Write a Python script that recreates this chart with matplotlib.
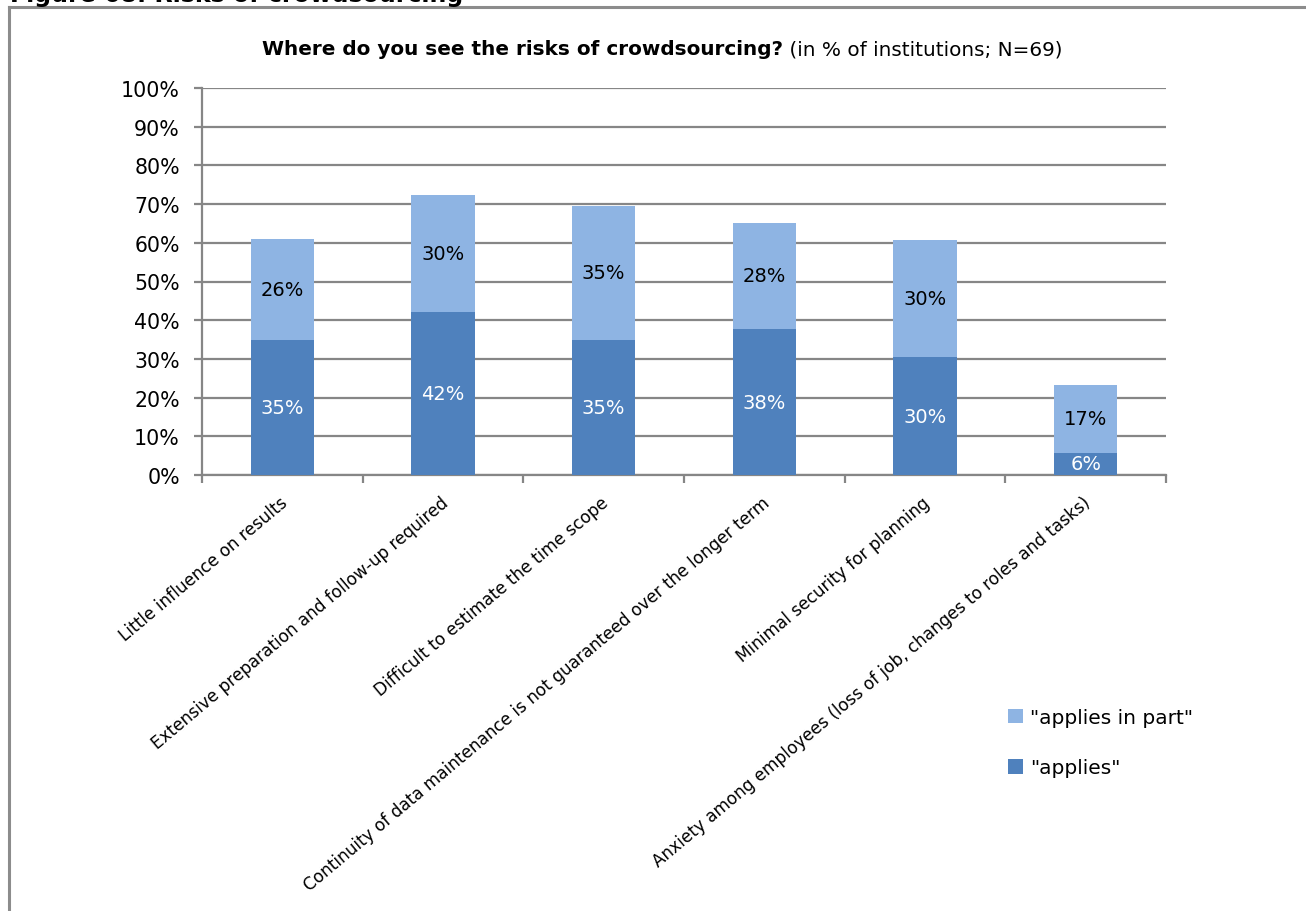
import matplotlib
matplotlib.use("Agg")
import matplotlib.pyplot as plt
from matplotlib.ticker import MultipleLocator, FuncFormatter

# Survey answers (share of institutions, N=69)
categories = [
    "Little influence on results",
    "Extensive preparation and follow-up required",
    "Difficult to estimate the time scope",
    "Continuity of data maintenance is not guaranteed over the longer term",
    "Minimal security for planning",
    "Anxiety among employees (loss of job, changes to roles and tasks)",
]
applies = [34.8, 42.0, 34.8, 37.7, 30.4, 5.8]
applies_in_part = [26.1, 30.4, 34.8, 27.5, 30.4, 17.4]

FONT = "DejaVu Sans"
C_DARK = "#4f81bd"
C_LIGHT = "#8eb4e3"
GRID = "#868686"

W, H = 1306, 912
fig = plt.figure(figsize=(W / 100, H / 100), dpi=100)
fig.patch.set_facecolor("white")


def px(x, y):
    return x / W, 1 - y / H


# frame around the chart area
fig.add_artist(plt.Line2D([9 / W, 9 / W], [0, 1 - 8 / H], transform=fig.transFigure,
                          color="#8c8c8c", lw=2.2))
fig.add_artist(plt.Line2D([9 / W, 1], [1 - 8 / H, 1 - 8 / H], transform=fig.transFigure,
                          color="#8c8c8c", lw=2.2))

# caption above the frame
fig.text(10 / W, 1 - 2 / H, "Figure 68: Risks of crowdsourcing", family=FONT,
         weight="bold", fontsize=17, ha="left", va="baseline")

x0, x1, ytop, ybot = 202, 1166, 89, 476
ax = fig.add_axes([x0 / W, 1 - ybot / H, (x1 - x0) / W, (ybot - ytop) / H])

n = len(categories)
pos = list(range(n))
ax.bar(pos, applies, width=0.395, color=C_DARK, label='"applies"', zorder=3)
ax.bar(pos, applies_in_part, width=0.395, bottom=applies, color=C_LIGHT,
       label='"applies in part"', zorder=3)

for i in range(n):
    ax.text(i, applies[i] / 2, f"{applies[i]:.0f}%", ha="center", va="center",
            color="white", fontsize=14, family=FONT, zorder=4)
    ax.text(i, applies[i] + applies_in_part[i] / 2, f"{applies_in_part[i]:.0f}%",
            ha="center", va="center", color="black", fontsize=14, family=FONT, zorder=4)

ax.set_xlim(-0.5, n - 0.5)
ax.set_ylim(0, 100)
ax.yaxis.set_major_locator(MultipleLocator(10))
ax.yaxis.set_major_formatter(FuncFormatter(lambda v, p: f"{v:.0f}%"))
ax.grid(axis="y", color=GRID, lw=1.6, zorder=0)
ax.set_axisbelow(True)
for s in ["top", "right"]:
    ax.spines[s].set_visible(False)
for s in ["left", "bottom"]:
    ax.spines[s].set_color(GRID)
    ax.spines[s].set_linewidth(1.6)
ax.tick_params(axis="y", length=6, width=1.6, color=GRID, labelsize=14.8, pad=10)
for lab in ax.get_yticklabels():
    lab.set_family(FONT)

# category boundaries carry the x ticks
ax.set_xticks([i - 0.5 for i in range(n + 1)])
ax.set_xticklabels([])
ax.tick_params(axis="x", length=6, width=1.6, color=GRID)

for i, name in enumerate(categories):
    ax.annotate(name, xy=(i, 0), xycoords="data", xytext=(-3, -18), textcoords="offset pixels",
                rotation=40, rotation_mode="anchor", ha="right", va="top",
                fontsize=12.2, family=FONT)

# title: bold question followed by regular note
t1 = fig.text(262 / W, 1 - 55 / H, "Where do you see the risks of crowdsourcing?",
              family=FONT, weight="bold", fontsize=14.4, ha="left", va="baseline")
fig.canvas.draw()
ax.annotate(" (in % of institutions; N=69)", xy=(1, 0), xycoords=t1,
            ha="left", va="bottom", family=FONT, fontsize=14.4)

handles, labels = ax.get_legend_handles_labels()
leg = fig.legend(handles[::-1], labels[::-1], loc="upper left",
                 bbox_to_anchor=px(990, 691), frameon=False,
                 prop={"family": FONT, "size": 14.5}, handlelength=0.75, handleheight=0.75,
                 handletextpad=0.35, labelspacing=1.55)

fig.savefig("out.png", dpi=100)
